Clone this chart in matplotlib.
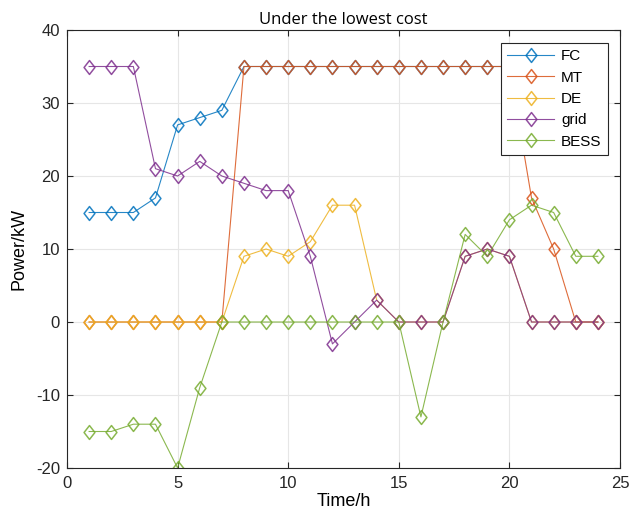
import matplotlib
matplotlib.use('Agg')
import matplotlib.pyplot as plt
from matplotlib.path import Path

plt.rcParams['font.family'] = ['Liberation Sans', 'DejaVu Sans']
plt.rcParams['axes.unicode_minus'] = False

hours = list(range(1, 25))
fc = [15, 15, 15, 17, 27, 28, 29, 35, 35, 35, 35, 35, 35, 35, 35, 35, 35, 35, 35, 35, 35, 35, 35, 35]
mt = [0, 0, 0, 0, 0, 0, 0, 35, 35, 35, 35, 35, 35, 35, 35, 35, 35, 35, 35, 35, 17, 10, 0, 0]
de = [0, 0, 0, 0, 0, 0, 0, 9, 10, 9, 11, 16, 16, 3, 0, 0, 0, 9, 10, 9, 0, 0, 0, 0]
grid = [35, 35, 35, 21, 20, 22, 20, 19, 18, 18, 9, -3, 0, 3, 0, 0, 0, 9, 10, 9, 0, 0, 0, 0]
bess = [-15, -15, -14, -14, -20, -9, 0, 0, 0, 0, 0, 0, 0, 0, 0, -13, 0, 12, 9, 14, 16, 15, 9, 9]

series = [('FC', fc, '#0072BD'), ('MT', mt, '#D95319'), ('DE', de, '#EDB120'),
          ('grid', grid, '#7E2F8E'), ('BESS', bess, '#77AC30')]

# diamond un peu allongé façon MATLAB
diamond = Path([(0, 1), (0.78, 0), (0, -1), (-0.78, 0), (0, 1)],
               [Path.MOVETO, Path.LINETO, Path.LINETO, Path.LINETO, Path.CLOSEPOLY])

fig = plt.figure(figsize=(6.43, 5.13), dpi=100)
ax = fig.add_axes([67 / 643, 45 / 513, 553 / 643, 438 / 513])

for name, vals, col in series:
    ax.plot(hours, vals, color=col, lw=0.8, alpha=0.85, marker=diamond,
            markersize=10, markerfacecolor='none', markeredgecolor=col,
            markeredgewidth=1.1, label=name)

ax.set_xlim(0, 25)
ax.set_ylim(-20, 40)
ax.set_xticks([0, 5, 10, 15, 20, 25])
ax.set_yticks([-20, -10, 0, 10, 20, 30, 40])
ax.grid(True, color='#e6e6e6', lw=0.8)
ax.set_axisbelow(True)
ax.tick_params(direction='in', top=True, right=True, length=4, color='#262626',
               labelsize=12, labelcolor='#262626')
ax.tick_params(axis='x', pad=6)
ax.tick_params(axis='y', pad=5)
for s in ax.spines.values():
    s.set_color('#262626')
    s.set_linewidth(0.8)

ax.set_title('Under the lowest cost', fontsize=12, color='black', pad=4, family='Open Sans')
ax.set_xlabel('Time/h', fontsize=13, color='black', labelpad=1)
ax.set_ylabel('Power/kW', fontsize=13, color='black', labelpad=6)

leg = ax.legend(loc='upper right', bbox_to_anchor=(0.978, 0.97),
                frameon=True, fancybox=False, edgecolor='#262626', framealpha=1,
                handlelength=3.1, handletextpad=0.45, borderpad=0.4, labelspacing=0.48,
                borderaxespad=0, prop={'size': 11})
leg.get_frame().set_linewidth(0.8)

fig.savefig('out.png', dpi=100)
